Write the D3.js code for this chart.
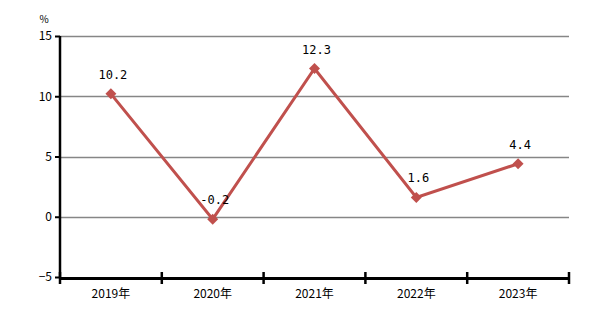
<!DOCTYPE html>
<html>
<head>
<meta charset="utf-8">
<script src="https://d3js.org/d3.v7.min.js"></script>
<style>
  body { margin: 0; background: #fff; }
  svg text { font-family: "Noto Sans CJK SC", "DejaVu Sans", sans-serif; }
  svg text.val { font-family: "DejaVu Sans Mono", monospace; }
</style>
</head>
<body>
<div id="chart"></div>
<script>
// data
var years = ["2019年", "2020年", "2021年", "2022年", "2023年"];
var growth = [10.2, -0.2, 12.3, 1.6, 4.4];
var yTicks = [-5, 0, 5, 10, 15];

var width = 607, height = 316;
var margin = {top: 36, right: 38, bottom: 39, left: 60};

var svg = d3.select("#chart").append("svg")
    .attr("width", width)
    .attr("height", height);

var x = d3.scaleBand().domain(years).range([margin.left, width - margin.right]);
var y = d3.scaleLinear().domain([-5, 15]).range([height - margin.bottom, margin.top]);

// gridlines
svg.append("g").selectAll("line")
    .data(yTicks.filter(function(d){ return d > -5; }))
    .enter().append("line")
    .attr("x1", margin.left).attr("x2", width - margin.right)
    .attr("y1", function(d){ return Math.round(y(d)) + 0.5; })
    .attr("y2", function(d){ return Math.round(y(d)) + 0.5; })
    .attr("stroke", "#868686").attr("stroke-width", 1.3);

// y axis
var yAxis = svg.append("g")
    .attr("transform", "translate(" + margin.left + ",0)")
    .call(d3.axisLeft(y).tickValues(yTicks).tickSize(5).tickFormat(function(d){ return d < 0 ? "\u2212" + (-d) : d; }));
yAxis.select(".domain").attr("stroke", "#000").attr("stroke-width", 2.5).attr("d", "M0," + margin.top + "V" + (height - margin.bottom));
yAxis.selectAll(".tick line").attr("stroke", "#000").attr("stroke-width", 2);
yAxis.selectAll(".tick text").attr("font-size", 12).attr("fill", "#000").attr("x", -8);

// x axis
var xAxis = svg.append("g")
    .attr("transform", "translate(0," + (height - margin.bottom + 1) + ")")
    .call(d3.axisBottom(x).tickSize(0).tickPadding(11));
xAxis.select(".domain").attr("stroke", "#000").attr("stroke-width", 3);
xAxis.selectAll(".tick text").attr("font-size", 12).attr("fill", "#000");

// category boundary ticks
var bounds = years.map(function(d){ return x(d); }).concat([x.range()[1]]);
svg.append("g").selectAll("line")
    .data(bounds)
    .enter().append("line")
    .attr("x1", function(d){ return d; }).attr("x2", function(d){ return d; })
    .attr("y1", height - margin.bottom - 5).attr("y2", height - margin.bottom + 7)
    .attr("stroke", "#000").attr("stroke-width", 2.5);

// unit label
svg.append("text")
    .attr("x", 44).attr("y", 23)
    .attr("text-anchor", "middle")
    .attr("font-size", 10)
    .text("%");

// line
var cx = function(i){ return x(years[i]) + x.bandwidth() / 2; };
var line = d3.line()
    .x(function(d, i){ return cx(i); })
    .y(function(d){ return y(d); });

svg.append("path")
    .datum(growth)
    .attr("d", line)
    .attr("fill", "none")
    .attr("stroke", "#c0504d")
    .attr("stroke-width", 3);

// markers (square rotated 45deg)
svg.append("g").selectAll("path")
    .data(growth)
    .enter().append("path")
    .attr("d", d3.symbol().type(d3.symbolSquare).size(60))
    .attr("transform", function(d, i){ return "translate(" + cx(i) + "," + y(d) + ") rotate(45)"; })
    .attr("fill", "#c0504d");

// data labels
svg.append("g").selectAll("text")
    .data(growth)
    .enter().append("text")
    .attr("class", "val")
    .attr("x", function(d, i){ return cx(i) + 2; })
    .attr("y", function(d){ return y(d) - 15; })
    .attr("text-anchor", "middle")
    .attr("font-size", 12)
    .attr("fill", "#000")
    .text(function(d){ return d.toFixed(1); });
</script>
</body>
</html>
